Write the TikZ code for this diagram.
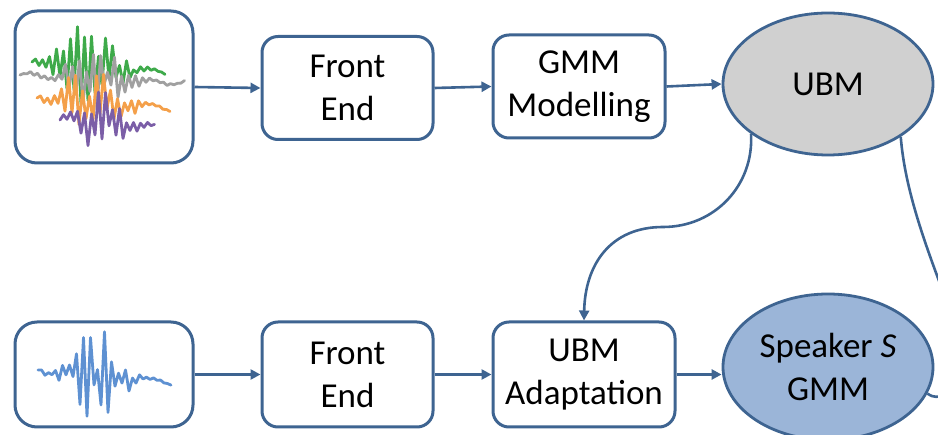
\documentclass[tikz,border=0pt]{standalone}
\usepackage{fontspec}
\setmainfont{Carlito}
\usetikzlibrary{arrows.meta,shapes.geometric}
\definecolor{edge}{RGB}{62,100,145}
\definecolor{ubmfill}{RGB}{208,208,208}
\definecolor{spkfill}{RGB}{155,181,216}
\definecolor{wgreen}{RGB}{62,170,74}
\definecolor{wgray}{RGB}{160,160,160}
\definecolor{worange}{RGB}{244,160,74}
\definecolor{wpurple}{RGB}{123,94,167}
\definecolor{wblue}{RGB}{94,145,210}
\newcommand\mywave[9]{%
  \pgfmathsetseed{#9}%
  \pgfmathtruncatemacro\wn{(#3-#2)/3.5}%
  \draw[draw=#1, line width=2.8pt, line join=round, line cap=round] (#2,#4)
    \foreach \i in {1,...,\wn}{ -- ({#2+3.5*\i},{#4+(#5-#4)*3.5*\i/(#3-#2)+2.5*sin(9*(#2+3.5*\i))+cos(180*\i)*(1+#6*exp(-((#2+3.5*\i-#7)/#8)*((#2+3.5*\i-#7)/#8)))*(0.12+0.88*rnd)}) };
}
\begin{document}
\begin{tikzpicture}[x=1pt,y=-1pt,
  box/.style={draw=edge, line width=3pt, rounded corners=16pt, fill=white, align=center, inner sep=0pt, font=\fontsize{35}{43}\selectfont},
  wavebox/.style={draw=edge, line width=3pt, rounded corners=22pt, fill=white, inner sep=0pt},
  oval/.style={ellipse, draw=edge, line width=2.8pt, align=center, inner sep=0pt, font=\fontsize{35}{43}\selectfont},
  arr/.style={draw=edge, line width=2.6pt, -{Triangle[length=10pt,width=10pt]}},
  link/.style={draw=edge, line width=2.6pt},
]
\useasboundingbox (0,0) rectangle (938,435);
\begin{scope}
\clip (0,0) rectangle (938,435);
% top row
\node[wavebox, minimum width=178pt, minimum height=152pt] (w1) at (104,87) {};
\node[box, minimum width=171pt, minimum height=103pt] (fe1) at (347.5,88) {Front\\End};
\node[box, minimum width=172pt, minimum height=103pt] (gmm) at (579,86.5) {GMM\\Modelling};
\node[oval, fill=ubmfill, minimum width=210pt, minimum height=142pt] (ubm) at (828,84) {UBM};
% bottom row
\node[wavebox, minimum width=178pt, minimum height=105pt] (w2) at (104,374.5) {};
\node[box, minimum width=171pt, minimum height=105pt] (fe2) at (347.5,374.5) {Front\\End};
\node[box, minimum width=182pt, minimum height=105pt] (adapt) at (584,374.5) {UBM\\Adaptation};
\node[oval, fill=spkfill, minimum width=210pt, minimum height=146pt] (spk) at (828,367) {Speaker \textit{S}\\GMM};
% waveforms
\mywave{wgreen}{32}{165}{62}{72}{42}{88}{32}{3}
\mywave{wgray}{20}{185}{75}{83}{30}{95}{32}{7}
\mywave{worange}{37}{170}{98}{108}{46}{95}{30}{11}
\mywave{wpurple}{60}{157}{120}{127}{32}{102}{26}{5}
\mywave{wblue}{38}{172}{370}{382}{48}{95}{28}{17}
% arrows
\draw[arr] (w1.east) -- (fe1.west);
\draw[arr] (fe1.east) -- (gmm.west);
\draw[arr] (gmm.east) -- (ubm.west);
\draw[arr] (w2.east) -- (fe2.west);
\draw[arr] (fe2.east) -- (adapt.west);
\draw[arr] (adapt.east) -- (adapt.east -| spk.west);
\draw[arr] (ubm.213) .. controls (754,185) and (715,227) .. (663,227)
  .. controls (610,227) and (585,265) .. (adapt.north);
\coordinate (offA) at (952,315);
\coordinate (offB) at (952,393);
\draw[link] (ubm.324) .. controls (905,190) and (925,245) .. (offA);
\draw[link] (spk.345) .. controls (935,398) .. (offB);
\end{scope}
\end{tikzpicture}
\end{document}
